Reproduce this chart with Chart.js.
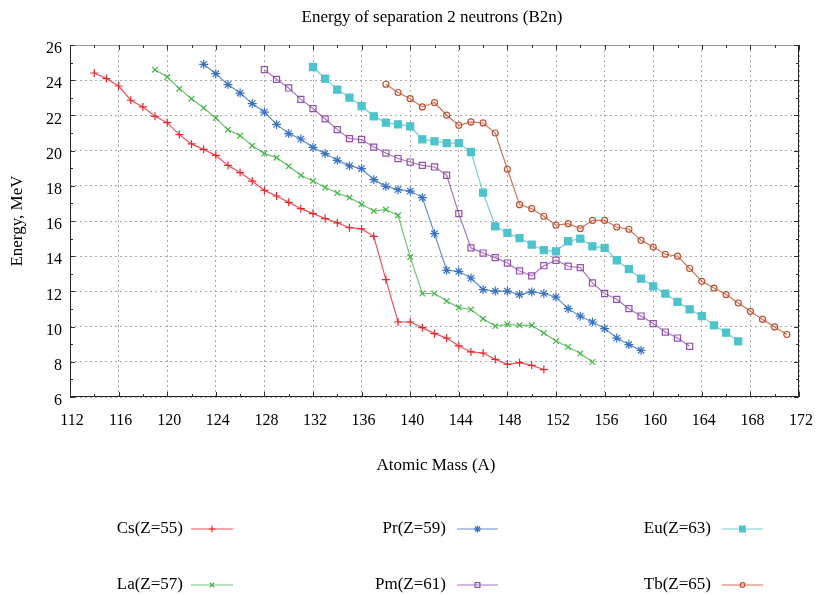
<!DOCTYPE html>
<html>
<head>
<meta charset="utf-8">
<script src="https://cdn.jsdelivr.net/npm/chart.js@4.4.0/dist/chart.umd.min.js"></script>
<style>
  body { margin: 0; background: #fff; }
</style>
</head>
<body>
<canvas id="grafico" width="816" height="595"></canvas>
<script>
// massa atomica (A) e energia B2n (MeV) de cada elemento
const csA = [114,115,116,117,118,119,120,121,122,123,124,125,126,127,128,129,130,131,132,133,134,135,136,137,138,139,140,141,142,143,144,145,146,147,148,149,150,151];
const csE = [24.41,24.09,23.67,22.86,22.48,21.95,21.59,20.91,20.38,20.07,19.73,19.16,18.75,18.27,17.74,17.42,17.06,16.70,16.42,16.14,15.89,15.62,15.55,15.13,12.67,10.26,10.26,9.94,9.60,9.35,8.90,8.56,8.50,8.14,7.86,7.95,7.80,7.56];

const laA = [119,120,121,122,123,124,125,126,127,128,129,130,131,132,133,134,135,136,137,138,139,140,141,142,143,144,145,146,147,148,149,150,151,152,153,154,155];
const laE = [24.60,24.18,23.52,22.95,22.42,21.85,21.19,20.85,20.28,19.83,19.60,19.11,18.60,18.27,17.90,17.59,17.33,16.95,16.57,16.65,16.32,13.95,11.88,11.88,11.45,11.08,10.97,10.45,10.03,10.13,10.07,10.07,9.64,9.18,8.84,8.47,7.99];

const prA = [123,124,125,126,127,128,129,130,131,132,133,134,135,136,137,138,139,140,141,142,143,144,145,146,147,148,149,150,151,152,153,154,155,156,157,158,159];
const prE = [24.90,24.37,23.75,23.27,22.67,22.19,21.49,20.97,20.66,20.18,19.83,19.45,19.13,18.98,18.35,17.97,17.78,17.70,17.33,15.28,13.20,13.14,12.76,12.10,12.02,12.02,11.82,11.97,11.88,11.68,11.02,10.59,10.26,9.89,9.35,8.98,8.65];

const pmA = [128,129,130,131,132,133,134,135,136,137,138,139,140,141,142,143,144,145,146,147,148,149,150,151,152,153,154,155,156,157,158,159,160,161,162,163];
const pmE = [24.60,24.05,23.56,22.91,22.39,21.80,21.19,20.68,20.63,20.20,19.86,19.55,19.35,19.16,19.07,18.60,16.42,14.47,14.18,13.92,13.61,13.16,12.88,13.46,13.77,13.43,13.35,12.48,11.88,11.55,11.02,10.60,10.17,9.69,9.35,8.88];

const euA = [132,133,134,135,136,137,138,139,140,141,142,143,144,145,146,147,148,149,150,151,152,153,154,155,156,157,158,159,160,161,162,163,164,165,166,167];
const euE = [24.75,24.09,23.47,23.01,22.53,21.95,21.59,21.49,21.38,20.64,20.53,20.43,20.43,19.92,17.61,15.70,15.32,15.03,14.66,14.34,14.28,14.85,15.00,14.56,14.47,13.77,13.26,12.73,12.29,11.88,11.40,10.98,10.60,10.07,9.66,9.16];

const tbA = [138,139,140,141,142,143,144,145,146,147,148,149,150,151,152,153,154,155,156,157,158,159,160,161,162,163,164,165,166,167,168,169,170,171];
const tbE = [23.77,23.30,22.95,22.48,22.73,22.01,21.44,21.63,21.57,21.00,18.94,16.93,16.70,16.27,15.76,15.85,15.57,16.04,16.04,15.66,15.53,14.90,14.52,14.11,14.00,13.30,12.57,12.19,11.82,11.34,10.87,10.41,9.98,9.55];

const nomes = ['Cs(Z=55)', 'La(Z=57)', 'Pr(Z=59)', 'Pm(Z=61)', 'Eu(Z=63)', 'Tb(Z=65)'];
const xTicks = [112,116,120,124,128,132,136,140,144,148,152,156,160,164,168,172];
const yTicks = [6,8,10,12,14,16,18,20,22,24,26];

const fonte = '"Liberation Serif", "DejaVu Serif", serif';

function pontos(a, e) {
  return a.map((v, i) => ({ x: v, y: e[i] }));
}

// cor = [r,g,b]; linha um pouco transparente como no original
function serie(label, a, e, cor, estilo, raio, preenche) {
  const cheia = 'rgb(' + cor.join(',') + ')';
  return {
    label: label,
    data: pontos(a, e),
    showLine: true,
    borderColor: 'rgba(' + cor.join(',') + ',0.8)',
    backgroundColor: preenche ? cheia : 'rgba(0,0,0,0)',
    borderWidth: 1.2,
    pointStyle: estilo,
    pointRadius: raio,
    pointBorderColor: cheia,
    pointBackgroundColor: preenche ? cheia : 'rgba(0,0,0,0)',
    pointBorderWidth: 1.2,
    tension: 0
  };
}

const datasets = [
  serie(nomes[0], csA, csE, [232,40,47], 'cross', 4, false),
  serie(nomes[1], laA, laE, [69,181,74], 'crossRot', 4, false),
  serie(nomes[2], prA, prE, [58,114,194], 'star', 4.5, false),
  serie(nomes[3], pmA, pmE, [147,80,173], 'rect', 4.3, false),
  serie(nomes[4], euA, euE, [77,195,203], 'rect', 5, true),
  serie(nomes[5], tbA, tbE, [192,80,47], 'circle', 3, false)
];

// titulo, rotulos dos eixos, ticks internos e legenda desenhados a mao
const extras = {
  id: 'extras',
  afterDraw(chart) {
    const ctx = chart.ctx;
    const a = chart.chartArea;
    const sx = chart.scales.x, sy = chart.scales.y;
    ctx.save();

    // moldura
    ctx.lineWidth = 1;
    ctx.strokeStyle = '#999';
    ctx.beginPath(); ctx.moveTo(a.left, a.top + 0.5); ctx.lineTo(a.right, a.top + 0.5); ctx.stroke();
    ctx.strokeStyle = '#222';
    ctx.beginPath();
    ctx.moveTo(a.left + 0.5, a.top); ctx.lineTo(a.left + 0.5, a.bottom - 0.5);
    ctx.lineTo(a.right - 0.5, a.bottom - 0.5); ctx.lineTo(a.right - 0.5, a.top);
    ctx.stroke();

    // ticks
    ctx.strokeStyle = '#333';
    ctx.beginPath();
    for (let v = 112; v <= 172; v += 2) {
      const px = Math.round(sx.getPixelForValue(v)) + 0.5;
      const l = v % 4 === 0 ? 5 : 3;
      ctx.moveTo(px, a.bottom); ctx.lineTo(px, a.bottom - l);
      ctx.moveTo(px, a.top); ctx.lineTo(px, a.top + l);
    }
    for (let v = 6; v <= 26; v += 1) {
      const py = Math.round(sy.getPixelForValue(v)) + 0.5;
      const l = v % 2 === 0 ? 5 : 3;
      ctx.moveTo(a.left, py); ctx.lineTo(a.left + l, py);
      ctx.moveTo(a.right, py); ctx.lineTo(a.right - l, py);
    }
    ctx.stroke();

    // rotulos dos ticks
    ctx.fillStyle = '#000';
    ctx.font = '16px ' + fonte;
    ctx.textBaseline = 'middle';
    ctx.textAlign = 'center';
    xTicks.forEach(v => ctx.fillText(String(v), sx.getPixelForValue(v) + 2, 421));
    ctx.textAlign = 'right';
    yTicks.forEach(v => ctx.fillText(String(v), 62, sy.getPixelForValue(v) + 4));

    // textos
    ctx.font = '17px ' + fonte;
    ctx.textAlign = 'center';
    ctx.fillText('Energy of separation 2 neutrons (B2n)', 432, 18);
    ctx.fillText('Atomic Mass (A)', 436, 466);
    ctx.save();
    ctx.translate(18, 221);
    ctx.rotate(-Math.PI / 2);
    ctx.fillText('Energy, MeV', 0, 0);
    ctx.restore();

    // legenda
    const colTexto = [183, 446, 711];
    const colLinha = [[191, 233], [457, 498], [722, 763]];
    const linhas = [529, 585];
    ctx.font = '17px ' + fonte;
    chart.data.datasets.forEach((ds, i) => {
      const c = Math.floor(i / 2), r = i % 2;
      const y = linhas[r];
      ctx.textAlign = 'right';
      ctx.fillStyle = '#000';
      ctx.fillText(ds.label, colTexto[c], y);
      ctx.strokeStyle = ds.borderColor;
      ctx.lineWidth = 1.2;
      ctx.beginPath();
      ctx.moveTo(colLinha[c][0], y); ctx.lineTo(colLinha[c][1], y);
      ctx.stroke();
      ctx.strokeStyle = ds.pointBorderColor;
      ctx.fillStyle = ds.pointBackgroundColor;
      Chart.helpers.drawPoint(ctx, {
        pointStyle: ds.pointStyle,
        radius: ds.pointRadius * 0.8,
        borderWidth: 1.2,
        rotation: 0
      }, (colLinha[c][0] + colLinha[c][1]) / 2, y);
    });
    ctx.restore();
  }
};

new Chart(document.getElementById('grafico'), {
  type: 'scatter',
  data: { datasets: datasets },
  options: {
    responsive: false,
    animation: false,
    devicePixelRatio: 1,
    layout: { padding: { left: 70, right: 17, top: 45, bottom: 198 } },
    plugins: {
      legend: { display: false },
      tooltip: { enabled: false }
    },
    scales: {
      x: {
        type: 'linear',
        min: 112, max: 172,
        afterFit: s => { s.height = 0; },
        afterBuildTicks: s => { s.ticks = xTicks.map(v => ({ value: v })); },
        ticks: { display: false },
        grid: { color: '#aaa', lineWidth: 1, drawTicks: false },
        border: { display: false, dash: [2, 3] }
      },
      y: {
        min: 6, max: 26,
        afterFit: s => { s.width = 0; },
        afterBuildTicks: s => { s.ticks = yTicks.map(v => ({ value: v })); },
        ticks: { display: false },
        grid: { color: '#aaa', lineWidth: 1, drawTicks: false },
        border: { display: false, dash: [2, 3] }
      }
    }
  },
  plugins: [extras]
});
</script>
</body>
</html>
